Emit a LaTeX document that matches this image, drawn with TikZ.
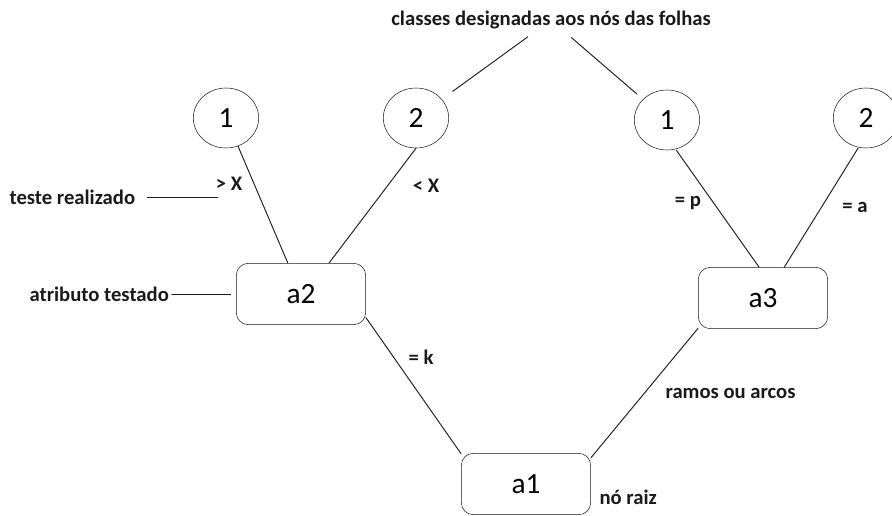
\documentclass[tikz,border=0pt]{standalone}
\usepackage{fontspec}
\setmainfont{Carlito}
\usetikzlibrary{shapes.geometric}
\definecolor{ink}{HTML}{1A1A1A}
\newcommand{\edgelbl}[3]{\node[lbl] (#1) at #2 {#3};}

\begin{document}
\begin{tikzpicture}[x=0.75pt,y=-0.75pt,line cap=round,line join=round,
  leaf/.style={draw=ink,ellipse,minimum width=49pt,minimum height=45pt,inner sep=0pt,font=\fontsize{22}{22}\selectfont},
  test/.style={draw=ink,rounded corners=9pt,minimum width=97pt,minimum height=46pt,inner sep=0pt,font=\fontsize{22}{22}\selectfont},
  lbl/.style={font=\bfseries\fontsize{15.5}{17}\selectfont,text=ink,inner sep=1pt},
  edge/.style={draw=ink,line width=0.7pt}]
  \useasboundingbox (0,0) rectangle (892,516);
  % leaves (classes)
  \node[leaf] (l1) at (226,118) {1};
  \node[leaf] (l2) at (416,118) {2};
  \node[leaf] (r1) at (667,120) {1};
  \node[leaf] (r2) at (866,118) {2};
  % attribute nodes
  \node[test] (a2) at (301,294) {a2};
  \node[test] (a3) at (763,298) {a3};
  \node[test] (a1) at (526,484) {a1};
  % branches
  \draw[edge] (l1) -- (a2);
  \draw[edge] (l2.south) -- ([xshift=21pt]a2.north);
  \draw[edge] ([xshift=7pt]r1.south) -- ([xshift=-3pt]a3.north);
  \draw[edge] ([xshift=-6pt]r2.south) -- ([xshift=16pt]a3.north);
  \draw[edge] (a2.-20) -- (a1.155);
  \draw[edge] (a3.205) -- (a1.22);
  % tests on the branches
  \edgelbl{gtx}{(229,184)}{> X}
  \edgelbl{ltx}{(426,186)}{< X}
  \edgelbl{eqp}{(688,203)}{= p}
  \edgelbl{eqa}{(855,207)}{= a}
  \edgelbl{eqk}{(421,357)}{= k}
  % annotations
  \node[lbl] (title) at (551,20) {classes designadas aos nós das folhas};
  \draw[edge,shorten <=8pt,shorten >=10pt] (title) -- (l2);
  \draw[edge,shorten <=8pt,shorten >=6pt] (title) -- (r1);
  \node[lbl,anchor=west] (teste) at (8,197) {teste realizado};
  \coordinate (testeend) at (218,197);
  \draw[edge] ([xshift=8pt]teste.east) -- (testeend);
  \node[lbl,anchor=west] (attr) at (28,294) {atributo testado};
  \draw[edge,shorten >=4pt] ([xshift=1pt]attr.east) -- (a2.west);
  \node[lbl,anchor=west] (ramos) at (664,393) {ramos ou arcos};
  \node[lbl,anchor=west] (raiz) at (598,497) {nó raiz};
\end{tikzpicture}
\end{document}
